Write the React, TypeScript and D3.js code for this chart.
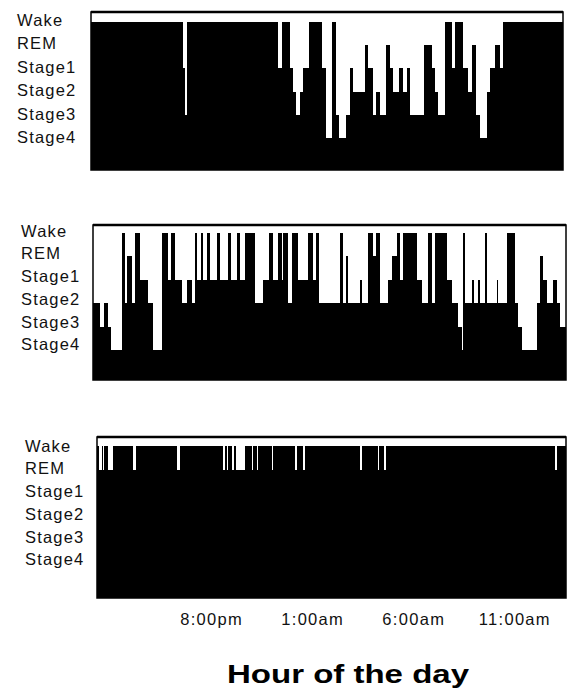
import React from 'react';
import * as d3 from 'd3';

// sleep stages, top to bottom
const STAGES = ['Wake', 'REM', 'Stage1', 'Stage2', 'Stage3', 'Stage4'];

// recording window in hours since midnight of day 1 (values > 24 = next day)
const HOUR_START = 14.33;
const HOUR_END = 37.53;
const TICK_HOURS = [20, 25, 30, 35];
const AXIS_TITLE = 'Hour of the day';

// [hour the stage starts, stage]
const patientA: [number, string][] = [
  [14.33, 'Wake'], [18.85, 'Stage1'], [18.95, 'Stage3'], [19.05, 'Wake'],
  [23.52, 'Stage1'], [23.72, 'Wake'], [24.11, 'Stage1'], [24.26, 'Stage2'],
  [24.41, 'Stage3'], [24.6, 'Stage2'], [24.75, 'Stage1'], [25.04, 'Wake'],
  [25.68, 'Stage1'], [25.88, 'Stage4'], [26.18, 'Wake'], [26.37, 'Stage3'],
  [26.52, 'Stage4'], [26.86, 'Stage3'], [27.06, 'Stage1'], [27.21, 'Stage2'],
  [27.8, 'REM'], [27.94, 'Stage1'], [28.19, 'Stage3'], [28.34, 'Stage2'],
  [28.53, 'Stage3'], [28.83, 'REM'], [29.03, 'Stage1'], [29.17, 'Stage2'],
  [29.47, 'Stage1'], [29.66, 'Stage2'], [29.86, 'Stage1'], [30.01, 'Stage3'],
  [30.7, 'REM'], [31.09, 'Stage1'], [31.24, 'Stage2'], [31.39, 'Stage3'],
  [31.73, 'Wake'], [32.07, 'Stage1'], [32.22, 'Wake'], [32.61, 'Stage1'],
  [32.86, 'Stage2'], [33.06, 'REM'], [33.25, 'Stage3'], [33.45, 'Stage4'],
  [33.79, 'Stage2'], [33.94, 'Stage1'], [34.19, 'REM'], [34.43, 'Stage1'],
  [34.58, 'Wake'],
];

const patientB: [number, string][] = [
  [14.33, 'Stage2'], [14.67, 'Stage3'], [14.87, 'Stage2'], [15.07, 'Stage3'],
  [15.21, 'Stage4'], [15.75, 'Wake'], [15.9, 'Stage2'], [16.0, 'REM'],
  [16.24, 'Stage2'], [16.39, 'Wake'], [16.64, 'Stage1'], [17.03, 'Stage2'],
  [17.27, 'Stage4'], [17.71, 'Wake'], [18.01, 'Stage1'], [18.16, 'Wake'],
  [18.35, 'Stage1'], [18.7, 'Stage2'], [18.94, 'Stage1'], [19.19, 'Stage2'],
  [19.33, 'Wake'], [19.43, 'Stage1'], [19.63, 'Wake'], [19.73, 'Stage1'],
  [19.92, 'Wake'], [20.07, 'Stage1'], [20.41, 'Wake'], [20.56, 'Stage1'],
  [20.95, 'Wake'], [21.1, 'Stage1'], [21.39, 'Wake'], [21.54, 'Stage1'],
  [21.79, 'Wake'], [22.28, 'Stage2'], [22.67, 'Stage1'], [22.96, 'Wake'],
  [23.16, 'Stage1'], [23.4, 'Wake'], [23.6, 'Stage1'], [23.65, 'Wake'],
  [23.89, 'Stage2'], [24.09, 'Wake'], [24.39, 'Stage1'], [24.88, 'Wake'],
  [25.12, 'Stage1'], [25.27, 'Wake'], [25.42, 'Stage2'], [26.45, 'Wake'],
  [26.59, 'Stage2'], [26.74, 'REM'], [26.84, 'Stage2'], [27.43, 'Stage1'],
  [27.52, 'Stage2'], [27.82, 'Wake'], [28.06, 'REM'], [28.21, 'Wake'],
  [28.41, 'Stage2'], [28.8, 'Stage1'], [28.99, 'REM'], [29.24, 'Wake'],
  [29.39, 'Stage1'], [29.54, 'Wake'], [30.22, 'Stage1'], [30.47, 'Stage2'],
  [30.76, 'Wake'], [30.96, 'Stage2'], [31.1, 'Wake'], [31.69, 'Stage1'],
  [31.94, 'Stage2'], [32.23, 'Stage3'], [32.43, 'Stage4'], [32.48, 'Wake'],
  [32.58, 'Stage2'], [32.92, 'Stage1'], [33.02, 'Stage2'], [33.21, 'Stage1'],
  [33.31, 'Stage2'], [33.56, 'Wake'], [33.66, 'Stage2'], [34.15, 'Stage1'],
  [34.2, 'Stage2'], [34.64, 'Wake'], [35.03, 'Stage2'], [35.18, 'Stage3'],
  [35.37, 'Stage4'], [36.11, 'Stage2'], [36.26, 'REM'], [36.4, 'Stage1'],
  [36.6, 'Stage2'], [36.89, 'Stage1'], [37.09, 'Stage2'], [37.24, 'Stage3'],
];

const patientC: [number, string][] = [
  [14.33, 'Wake'], [14.45, 'REM'], [14.56, 'Wake'], [14.64, 'REM'],
  [14.69, 'Wake'], [14.89, 'REM'], [15.11, 'Wake'], [16.1, 'REM'],
  [16.26, 'Wake'], [18.3, 'REM'], [18.44, 'Wake'], [20.56, 'REM'],
  [20.66, 'Wake'], [20.75, 'REM'], [20.83, 'Wake'], [20.99, 'REM'],
  [21.11, 'Wake'], [21.19, 'REM'], [21.65, 'Wake'], [21.98, 'REM'],
  [22.03, 'Wake'], [22.23, 'REM'], [22.31, 'Wake'], [22.97, 'REM'],
  [23.05, 'Wake'], [24.13, 'REM'], [24.21, 'Wake'], [24.54, 'REM'],
  [24.62, 'Wake'], [27.34, 'REM'], [27.42, 'Wake'], [28.22, 'REM'],
  [28.3, 'Wake'], [28.54, 'REM'], [28.63, 'Wake'], [36.99, 'REM'],
  [37.1, 'Wake'],
];

// panel boxes (the scanned figure is slightly misaligned between panels)
const panels = [
  { data: patientA, left: 91, right: 563, top: 12, bottom: 170, wakeY: 22, step: 23.2, labelX: 17, labelY: 26, labelStep: 23.4 },
  { data: patientB, left: 93, right: 566, top: 225, bottom: 380, wakeY: 233, step: 23.4, labelX: 21, labelY: 236.7, labelStep: 22.7 },
  { data: patientC, left: 97, right: 566, top: 437, bottom: 598, wakeY: 446, step: 23.5, labelX: 25, labelY: 451.7, labelStep: 22.7 },
];

const fmtHour = (h: number) => {
  const hr = h % 24;
  const h12 = hr % 12 === 0 ? 12 : hr % 12;
  return `${h12}:00${hr < 12 ? 'am' : 'pm'}`;
};

const font = '"Liberation Sans", Arial, sans-serif';

function Panel({ p }: { p: typeof panels[number] }) {
  const x = d3.scaleLinear().domain([HOUR_START, HOUR_END]).range([p.left, p.right]);
  const y = d3.scalePoint().domain(STAGES).range([p.wakeY, p.wakeY + 5 * p.step]);
  const pts: [number, string][] = [...p.data, [HOUR_END, p.data[p.data.length - 1][1]]];
  const area = d3.area<[number, string]>()
    .x(d => x(d[0]))
    .y0(p.bottom)
    .y1(d => y(d[1]) as number)
    .curve(d3.curveStepAfter);

  return (
    <g>
      {STAGES.map((s, i) => (
        <text key={s} x={p.labelX} y={p.labelY + i * p.labelStep} fontSize={16.5}
          letterSpacing={1.2} fontFamily={font} fill="#111">{s}</text>
      ))}
      <path d={area(pts) || ''} fill="#000" shapeRendering="crispEdges" />
      <rect x={p.left} y={p.top} width={p.right - p.left} height={p.bottom - p.top}
        fill="none" stroke="#000" strokeWidth={1.5} />
      <line x1={p.left} x2={p.right} y1={p.top} y2={p.top} stroke="#000" strokeWidth={2.5} />
    </g>
  );
}

export default function App() {
  const last = panels[panels.length - 1];
  const xAxis = d3.scaleLinear().domain([HOUR_START, HOUR_END]).range([last.left, last.right]);

  return (
    <div style={{ position: 'absolute', left: 0, top: 0 }}>
      <svg width={568} height={696} style={{ display: 'block', background: '#fff' }}>
        {panels.map((p, i) => <Panel key={i} p={p} />)}
        {TICK_HOURS.map(h => (
          <text key={h} x={xAxis(h)} y={625} textAnchor="middle" fontSize={16.5}
            letterSpacing={1.3} fontFamily={font} fill="#111">{fmtHour(h)}</text>
        ))}
        <text x={348} y={683} textAnchor="middle" fontSize={25} fontWeight="bold"
          fontFamily={font} textLength={242} lengthAdjust="spacingAndGlyphs" fill="#000">{AXIS_TITLE}</text>
      </svg>
    </div>
  );
}
